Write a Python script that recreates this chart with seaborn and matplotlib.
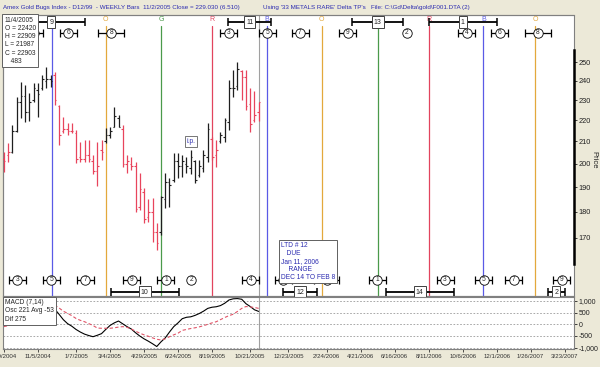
import numpy as np
import pandas as pd
import matplotlib
matplotlib.use("Agg")
import matplotlib.pyplot as plt
import matplotlib.dates as mdates
import matplotlib.ticker as mticker
import seaborn as sns

# Weekly bars, Amex Gold Bugs Index
bar_dates = pd.date_range("2004-09-10", "2005-11-04", freq="7D")
highs = [205.2, 209.2, 217.7, 231.5, 239.3, 237.7, 233.5, 238.7, 238.7, 242.9,
         247.3, 242.9, 244.5, 227.5, 221.6, 218.6, 218.6, 215.3, 209.7, 210.6,
         210.6, 203.7, 209.7, 210.6, 216.2, 216.7, 226.5, 222.6, 217.7, 203.7,
         202.9, 200.7, 195.9, 189.7, 185.1, 185.5, 175.6, 186.5, 195.9, 193.8,
         204.8, 204.8, 203.7, 202.9, 206.1, 201.6, 201.6, 206.1, 218.6, 212.0,
         210.6, 214.4, 221.1, 240.6, 245.6, 250.0, 245.6, 245.6, 236.1, 234.4,
         229.09]
lows = [196.4, 200.7, 204.8, 214.4, 221.1, 219.2, 219.6, 229.0, 221.6, 235.1,
        236.1, 236.7, 227.5, 208.2, 213.8, 212.9, 213.8, 200.2, 200.7, 200.7,
        200.7, 195.4, 190.3, 201.6, 209.2, 211.5, 216.7, 216.7, 198.5, 195.9,
        197.2, 179.8, 180.7, 175.6, 176.0, 168.4, 165.6, 171.1, 181.5, 181.9,
        192.1, 193.8, 194.2, 195.9, 195.4, 191.7, 194.2, 196.4, 200.7, 201.6,
        198.5, 209.2, 209.7, 215.3, 231.5, 235.1, 230.0, 225.0, 214.4, 219.1,
        219.87]
opens = [202, 204, 205, 215, 229, 232, 224, 230, 235, 236,
         240, 241, 243, 227, 215, 216, 215, 214, 203, 202,
         204, 201, 197, 206, 210, 213, 217, 221, 216, 200,
         200, 199, 182, 188, 178, 180, 172, 172, 185, 192,
         193, 201, 199, 200, 198, 201, 195, 198, 203, 211,
         204, 210, 212, 219, 236, 237, 245, 242, 228, 220,
         224.20]
closes = [201, 205, 215, 229, 232, 224, 229, 236, 233, 241,
          241, 240, 230, 213, 216, 215, 215, 202, 202, 204,
          202, 197, 199, 205, 213, 215, 222, 217, 200, 201,
          199, 181, 189, 177, 180, 172, 168, 186, 192, 191,
          201, 199, 201, 199, 203, 193, 199, 204, 216, 203,
          206, 213, 220, 236, 236, 246, 242, 227, 218, 222.52,
          229.03]
# 1 = up trend (black bar), 0 = down trend (red bar)
trend = [0, 0, 1, 1, 1, 1, 1, 1, 1, 1,
         1, 1, 0, 0, 0, 0, 0, 0, 0, 0,
         0, 0, 0, 0, 1, 1, 1, 1, 0, 0,
         0, 0, 0, 0, 0, 0, 0, 1, 1, 1,
         1, 1, 1, 1, 1, 1, 1, 1, 1, 0,
         0, 1, 1, 1, 1, 1, 0, 0, 0, 0,
         0]

# MACD (7,14) and its average
macd = [-50, 50, 150, 250, 350, 450, 550, 620, 700, 750,
        800, 850, 650, 430, 200, 30, -80, -220, -330, -420,
        -480, -530, -470, -400, -220, -50, 60, 140, 20, -100,
        -200, -360, -500, -620, -720, -830, -950, -750, -580, -330,
        -100, 60, 240, 300, 320, 380, 460, 560, 680, 730,
        750, 800, 900, 1040, 1090, 1100, 1070, 880, 760, 620,
        550]
macd_avg = [-100, -60, 0, 60, 130, 200, 280, 360, 440, 520,
            600, 760, 820, 700, 560, 470, 370, 250, 170, 110,
            30, -50, -160, -170, -170, -170, -150, -120, -100, -130,
            -200, -290, -380, -450, -510, -580, -640, -670, -620, -530,
            -450, -380, -260, -220, -180, -150, -110, -60, 0, 60,
            110, 200, 290, 370, 430, 550, 680, 760, 740, 720,
            680]

# Time cycle lines
cycle_dates = ["2004-11-28", "2005-02-25", "2005-05-27", "2005-08-19", "2005-11-17",
               "2006-02-16", "2006-05-19", "2006-08-11", "2006-11-09", "2007-02-02"]
cycle_letters = ["B", "O", "G", "R", "B", "O", "G", "R", "B", "O"]

# Circled turning points (date, label, half range in weeks)
top_circle_dates = ["2004-10-30", "2004-12-25", "2005-03-06", "2005-09-16", "2005-11-18",
                    "2006-01-11", "2006-03-31", "2006-07-06", "2006-10-13", "2006-12-06",
                    "2007-02-07"]
top_circle_nums = ["4", "6", "8", "3", "5", "7", "9", "2", "4", "6", "8"]
top_circle_weeks = [2, 2, 3, 2, 2, 2, 2, 0, 2, 2, 3]
bot_circle_dates = ["2004-10-02", "2004-11-27", "2005-01-22", "2005-04-09", "2005-06-04",
                    "2005-07-16", "2005-10-22", "2005-12-14", "2006-02-24", "2006-05-18",
                    "2006-09-07", "2006-11-10", "2006-12-29", "2007-03-18"]
bot_circle_nums = ["3", "5", "7", "9", "1", "2", "4", "6", "8", "1", "3", "5", "7", "9"]
bot_circle_weeks = [2, 2, 2, 2, 2, 0, 2, 2, 3, 2, 2, 2, 2, 2]

# Boxed long term dates (LTD)
top_box_dates = ["2004-11-27", "2005-10-20", "2006-05-19", "2006-10-06"]
top_box_nums = ["9", "11", "13", "1"]
top_box_weeks = [8, 5, 6, 8]
bot_box_dates = ["2005-04-30", "2006-01-11", "2006-07-27", "2007-03-09"]
bot_box_nums = ["10", "12", "14", "2"]
bot_box_weeks = [8, 4, 8, 2]

date_labels = ["9/10/2004", "11/5/2004", "1/7/2005", "3/4/2005", "4/29/2005", "6/24/2005",
               "8/19/2005", "10/21/2005", "12/23/2005", "2/24/2006", "4/21/2006",
               "6/16/2006", "8/11/2006", "10/6/2006", "12/1/2006", "1/26/2007", "3/23/2007"]
price_ticks = [170, 180, 190, 200, 210, 220, 230, 240, 250]
macd_ticks = [-1000, -500, 0, 500, 1000]

sns.set_theme(style="white")
plt.rcParams["font.family"] = ["Liberation Sans", "DejaVu Sans"]

BG = "#ECE9D8"
BORDER = "#808080"
TXT_BLUE = "#2b2bb0"
cycle_colors = {"B": "#5a5ae6", "O": "#e3a83c", "G": "#4a9a4a", "R": "#e2445e"}
bar_colors = ["#1e1e1e" if t else "#e8445c" for t in trend]

W, H = 600, 367


def px_rect(x0, y0, x1, y1):
    return [x0 / W, 1 - y1 / H, (x1 - x0) / W, (y1 - y0) / H]


fig = plt.figure(figsize=(6, 3.67), dpi=100, facecolor=BG)
ax = fig.add_axes(px_rect(3, 15, 574, 296))
axm = fig.add_axes(px_rect(3, 297, 574, 349), sharex=ax)

x = mdates.date2num(bar_dates)
start = x[0]
tick_len = 2.5

# --- price bars
ax.set_yscale("log")
ax.vlines(x, lows, highs, colors=bar_colors, lw=0.9, zorder=3)
ax.hlines(opens, x - tick_len, x, colors=bar_colors, lw=0.8, zorder=3)
ax.hlines(closes, x, x + tick_len, colors=bar_colors, lw=0.8, zorder=3)
ax.axvline(x[-1], color="#a0a0a0", lw=0.8, zorder=1)

trans = ax.get_xaxis_transform()
box_x = mdates.date2num(pd.to_datetime(top_box_dates))

# cycle lines with letters (letters under a box are not shown)
for d, letter in zip(mdates.date2num(pd.to_datetime(cycle_dates)), cycle_letters):
    c = cycle_colors[letter]
    ax.axvline(d, ymin=0, ymax=0.962, color=c, lw=0.9, zorder=2)
    if np.min(np.abs(box_x - d)) > 10:
        ax.text(d, 0.983, letter, transform=trans, color=c, fontsize=5,
                ha="center", va="center", zorder=2)


def draw_circles(dates, nums, weeks, yfrac):
    xs = mdates.date2num(pd.to_datetime(dates))
    for d, n, w in zip(xs, nums, weeks):
        if w > 0:
            ax.hlines(yfrac, d - 7 * w, d + 7 * w, transform=trans, color="black", lw=0.9, zorder=4)
            ax.vlines([d - 7 * w, d + 7 * w], yfrac - 0.014, yfrac + 0.014, transform=trans,
                      color="black", lw=0.9, zorder=4)
        ax.scatter([d], [yfrac], transform=trans, s=46, facecolor="white",
                   edgecolor="black", linewidth=0.6, zorder=5)
        ax.text(d, yfrac, n, transform=trans, fontsize=4.8, ha="center", va="center", zorder=6)


def draw_boxes(dates, nums, weeks, yfrac):
    xs = mdates.date2num(pd.to_datetime(dates))
    for d, n, w in zip(xs, nums, weeks):
        ax.hlines(yfrac, d - 7 * w, d + 7 * w, transform=trans, color="black", lw=1.3,
                  zorder=6, clip_on=False)
        ax.vlines([d - 7 * w, d + 7 * w], yfrac - 0.014, yfrac + 0.014, transform=trans,
                  color="black", lw=1.1, zorder=6, clip_on=False)
        ax.text(d, yfrac, n, transform=trans, fontsize=5, ha="center", va="center", zorder=7,
                clip_on=False,
                bbox=dict(boxstyle="square,pad=0.3", fc="white", ec="#404040", lw=0.7))


draw_circles(top_circle_dates, top_circle_nums, top_circle_weeks, 0.936)
draw_circles(bot_circle_dates, bot_circle_nums, bot_circle_weeks, 0.057)
draw_boxes(top_box_dates, top_box_nums, top_box_weeks, 0.975)
draw_boxes(bot_box_dates, bot_box_nums, bot_box_weeks, 0.014)

# info boxes
info = (f"{bar_dates[-1].month}/{bar_dates[-1].day}/{bar_dates[-1].year}\n"
        f"O = {opens[-1] * 100:.0f}\nH = {highs[-1] * 100:.0f}\n"
        f"L = {lows[-1] * 100:.0f}\nC = {closes[-1] * 100:.0f}\n   483")
ax.text(0.003, 0.994, info, transform=ax.transAxes, fontsize=4.8, va="top", ha="left",
        linespacing=1.25, zorder=9,
        bbox=dict(boxstyle="square,pad=0.35", fc="white", ec="#606060", lw=0.7))
ax.text(0.487, 0.192, "LTD # 12\n   DUE\nJan 11, 2006\n    RANGE\nDEC 14 TO FEB 8",
        transform=ax.transAxes, fontsize=4.8, color=TXT_BLUE, va="top", ha="left",
        linespacing=1.2, zorder=9,
        bbox=dict(boxstyle="square,pad=0.3", fc="white", ec="#606060", lw=0.7))
ax.text(mdates.date2num(pd.Timestamp("2005-07-15")), 210, "i.p.", fontsize=4.8,
        color=TXT_BLUE, ha="center", va="center", zorder=9,
        bbox=dict(boxstyle="square,pad=0.25", fc="white", ec="#606060", lw=0.6))

ax.set_ylim(149.6, 277.2)
ax.yaxis.set_minor_locator(mticker.NullLocator())
ax.set_yticks(price_ticks)
ax.set_yticklabels([str(p) for p in price_ticks])
ax.yaxis.tick_right()
ax.tick_params(axis="y", labelsize=5.3, length=2.5, width=0.6, pad=1, colors="#222222",
               right=True, left=False)
ax.tick_params(axis="x", bottom=False, labelbottom=False)
for s in ax.spines.values():
    s.set_color(BORDER)
    s.set_linewidth(0.8)
ax.spines["right"].set_color("black")
ax.spines["right"].set_linewidth(1.8)
ax.spines["right"].set_bounds(min(lows) * 0.97, max(highs) * 1.027)
ax.patch.set_edgecolor(BORDER)
ax.patch.set_linewidth(0.8)

# --- MACD panel
sns.lineplot(x=x, y=macd, ax=axm, color="black", lw=0.8)
sns.lineplot(x=x, y=macd_avg, ax=axm, color="#e05568", lw=0.8, linestyle=(0, (3, 2)))
axm.axvline(x[-1], color="#a0a0a0", lw=0.8)
axm.set_ylim(-1056, 1167)
axm.set_yticks(macd_ticks)
axm.yaxis.set_major_formatter(mticker.FuncFormatter(lambda v, p: f"{v:,.0f}"))
axm.yaxis.tick_right()
axm.grid(axis="y", color="#9a9a9a", lw=0.6, linestyle=(0, (2, 2)))
axm.tick_params(axis="y", labelsize=5, length=2.5, width=0.6, pad=1, colors="#222222",
                right=True, left=False)
axm.text(0.003, 0.96, "MACD (7,14)\nOsc 221 Avg -53\nDif 275", transform=axm.transAxes,
         fontsize=4.8, va="top", ha="left", linespacing=1.25, zorder=9,
         bbox=dict(boxstyle="square,pad=0.3", fc="white", ec="#606060", lw=0.7))
for s in axm.spines.values():
    s.set_color(BORDER)
    s.set_linewidth(0.8)

label_x = mdates.date2num(pd.to_datetime(date_labels, format="%m/%d/%Y"))
axm.set_xticks(label_x)
axm.set_xticklabels(date_labels)
axm.tick_params(axis="x", labelsize=4.4, length=2, width=0.6, pad=1.5, colors="#333333",
                bottom=True)
axm.set_xlim(start - 1.3, start + 939.4)
axm.set_xlabel("")
axm.set_ylabel("")

# header + axis label
fig.text(3 / W, 1 - 7 / H, "Amex Gold Bugs Index - D12/99  - WEEKLY Bars  11/2/2005 Close = 229.030 (6.510)",
         fontsize=4.5, color=TXT_BLUE, va="center", ha="left")
fig.text(263 / W, 1 - 7 / H, "Using '33 METALS RARE' Delta TP's   File: C:\\Gd\\Delta\\gold\\F001.DTA (2)",
         fontsize=4.5, color=TXT_BLUE, va="center", ha="left")
fig.text(594 / W, 1 - 160 / H, "Price", rotation=270, fontsize=5.5, ha="center", va="center",
         color="#222222")

fig.savefig("out.png", dpi=100, facecolor=BG)
